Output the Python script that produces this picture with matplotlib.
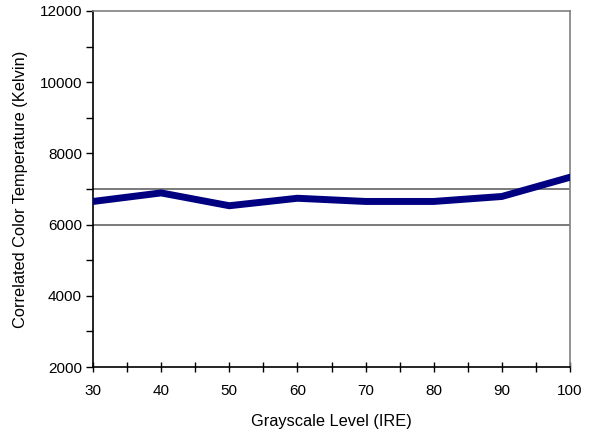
import matplotlib
matplotlib.use("Agg")
import matplotlib.pyplot as plt
from matplotlib.ticker import MultipleLocator

# Grayscale levels and measured colour temperature
ire = [30, 40, 50, 60, 70, 80, 90, 100]
cct = [6650, 6890, 6530, 6740, 6650, 6650, 6790, 7330]
ref_lines = [6000, 7000]

plt.rcParams['font.family'] = ['Liberation Sans', 'DejaVu Sans']

fig = plt.figure(figsize=(6.01, 4.36), dpi=100)
ax = fig.add_axes([93 / 601, 1 - 367 / 436, (570 - 93) / 601, (367 - 11) / 436])

for y in ref_lines:
    ax.axhline(y, color='#707070', lw=1.3, zorder=1)

ax.plot(ire, cct, color='#000080', lw=5, solid_joinstyle='miter', zorder=3)

ax.set_xlim(30, 100)
ax.set_ylim(2000, 12000)
ax.xaxis.set_major_locator(MultipleLocator(10))
ax.xaxis.set_minor_locator(MultipleLocator(5))
ax.yaxis.set_major_locator(MultipleLocator(2000))
ax.yaxis.set_minor_locator(MultipleLocator(1000))

ax.tick_params(axis='x', which='both', direction='inout', length=7, width=1, labelsize=11, pad=9)
ax.tick_params(axis='y', which='both', direction='out', length=5, width=1, labelsize=11, pad=3)

for side in ['top', 'right']:
    ax.spines[side].set_color('#808080')
    ax.spines[side].set_linewidth(1.2)
for side in ['left', 'bottom']:
    ax.spines[side].set_color('black')
    ax.spines[side].set_linewidth(1.2)

ax.set_xlabel('Grayscale Level (IRE)', fontsize=11.8, labelpad=11)
ax.set_ylabel('Correlated Color Temperature (Kelvin)', fontsize=11.8, labelpad=8)

fig.savefig('out.png', dpi=100)
